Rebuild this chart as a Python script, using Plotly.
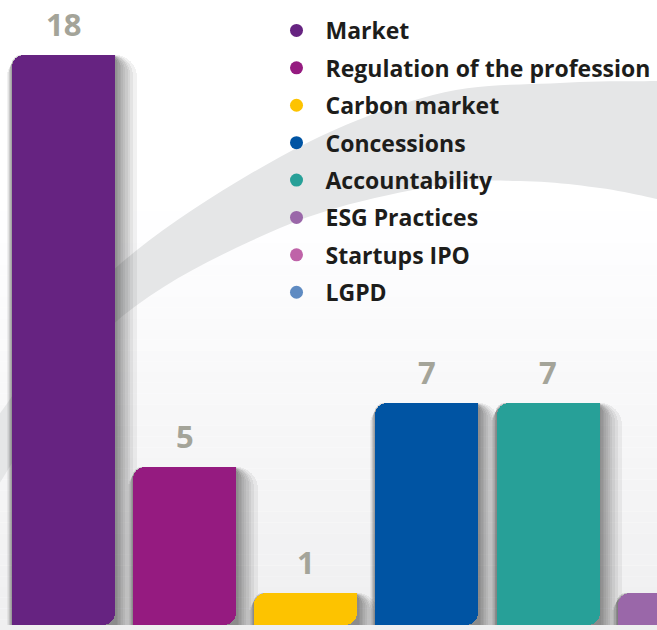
import plotly.graph_objects as go

# Number of mentions per topic
categories = ["Market", "Regulation of the profession", "Carbon market", "Concessions",
              "Accountability", "ESG Practices", "Startups IPO", "LGPD"]
mentions = [18, 5, 1, 7, 7, 1, 1, 1]
colors = ["#662381", "#951b80", "#fdc300", "#0054a3", "#27a098",
          "#9a67a9", "#bf63a8", "#5f8bc2"]

W, H = 657, 630
PITCH = 121.05          # px per category
BAR_W = 103 / PITCH     # bar width in category units


def px_x(p):
    return p / W


def px_y(p):
    return 1 - p / H


def smooth(points, steps=12):
    """Catmull-Rom through points, returned as a list of (x, y)."""
    pts = [points[0]] + points + [points[-1]]
    out = []
    for i in range(1, len(pts) - 2):
        p0, p1, p2, p3 = pts[i - 1], pts[i], pts[i + 1], pts[i + 2]
        for s in range(steps):
            t = s / steps
            t2, t3 = t * t, t * t * t
            x = 0.5 * ((2 * p1[0]) + (-p0[0] + p2[0]) * t + (2 * p0[0] - 5 * p1[0] + 4 * p2[0] - p3[0]) * t2 + (-p0[0] + 3 * p1[0] - 3 * p2[0] + p3[0]) * t3)
            y = 0.5 * ((2 * p1[1]) + (-p0[1] + p2[1]) * t + (2 * p0[1] - 5 * p1[1] + 4 * p2[1] - p3[1]) * t2 + (-p0[1] + 3 * p1[1] - 3 * p2[1] + p3[1]) * t3)
            out.append((x, y))
    out.append(points[-1])
    return out


fig = go.Figure()

# soft drop shadow to the right of every bar: many thin translucent layers,
# denser near the bar edge, with rounder corners further out
shadow_reach = [1.5, 3, 4.5, 6, 8, 10, 12.5, 15, 18, 22]
for i, reach in enumerate(shadow_reach):
    extra = reach / PITCH
    fig.add_trace(go.Bar(
        x=categories, y=mentions,
        width=BAR_W + extra * 1.25, offset=-BAR_W / 2 - extra * 0.25,
        marker=dict(color="rgba(45,45,45,0.068)", line=dict(width=0),
                    cornerradius=8 + 1.6 * i),
        showlegend=False, hoverinfo="skip",
    ))

# Each bar is assembled from three overlapping pieces so that only the
# top-left and bottom-right corners come out rounded.
# left piece: rounded top
fig.add_trace(go.Bar(
    x=categories, y=mentions,
    width=BAR_W * 0.6, offset=-BAR_W / 2,
    marker=dict(color=colors, line=dict(width=0), cornerradius=12),
    showlegend=False, hoverinfo="x+y",
))
# right piece hanging from the top: rounded bottom
fig.add_trace(go.Bar(
    x=categories, y=[-v for v in mentions], base=mentions,
    width=BAR_W * 0.6, offset=-BAR_W * 0.1,
    marker=dict(color=colors, line=dict(width=0), cornerradius=12),
    showlegend=False, hoverinfo="skip",
))
# upper right piece: square top-right corner
fig.add_trace(go.Bar(
    x=categories, y=[v / 2 for v in mentions], base=[v / 2 for v in mentions],
    width=BAR_W * 0.6, offset=-BAR_W * 0.1,
    marker=dict(color=colors, line=dict(width=0)),
    showlegend=False, hoverinfo="skip",
))

# legend entries with round dots
for name, c in zip(categories, colors):
    fig.add_trace(go.Scatter(
        x=[None], y=[None], mode="markers", name=name, legendgroup=name,
        marker=dict(symbol="circle", size=13, color=c),
    ))

# value labels above the bars
for cat, v in zip(categories, mentions):
    fig.add_annotation(
        x=cat, y=v, text=str(v), showarrow=False, yanchor="bottom", yshift=8,
        font=dict(family="Open Sans", size=31, color="#a4a499", weight=700),
    )

# background: vertical wash plus a grey swoosh
shapes = []
n_strips = 40
top, bottom = 200, H
for i in range(n_strips):
    y0 = top + (bottom - top) * i / n_strips
    y1 = top + (bottom - top) * (i + 1) / n_strips
    t = (i + 0.5) / n_strips
    g = round(255 - 16 * t)
    shapes.append(dict(type="rect", xref="paper", yref="paper", layer="below",
                       x0=0, x1=1, y0=px_y(y1), y1=px_y(y0),
                       fillcolor=f"rgb({g},{g},{min(255, g + 1)})", line=dict(width=0)))

upper = smooth([(-5, 420), (110, 273), (280, 157), (433, 95), (560, 83), (662, 81)])
lower = smooth([(-5, 490), (110, 327), (280, 228), (433, 186), (520, 181), (600, 188), (662, 200)])
ring = upper + lower[::-1]
path = "M " + " L ".join(f"{px_x(x):.5f},{px_y(y):.5f}" for x, y in ring) + " Z"
shapes.append(dict(type="path", xref="paper", yref="paper", layer="below", path=path,
                   fillcolor="#e5e6e7", line=dict(width=0)))

k_px = 31.66
y0 = -5 / k_px
y1 = y0 + H / k_px
x0 = -63.8 / PITCH
x1 = x0 + W / PITCH

fig.update_layout(
    width=W, height=H, autosize=False,
    margin=dict(l=0, r=0, t=0, b=0, pad=0),
    paper_bgcolor="white", plot_bgcolor="rgba(0,0,0,0)",
    barmode="overlay", bargap=0,
    shapes=shapes,
    showlegend=True,
    legend=dict(
        x=px_x(267.5), y=px_y(9), xanchor="left", yanchor="top",
        bgcolor="rgba(0,0,0,0)", borderwidth=0,
        font=dict(family="Open Sans", size=23, color="#1d1d1b", weight=700),
        traceorder="grouped", tracegroupgap=4.5, itemwidth=48,
    ),
    xaxis=dict(type="category", categoryorder="array", categoryarray=categories,
               range=[x0, x1], visible=False, fixedrange=True),
    yaxis=dict(range=[y0, y1], visible=False, fixedrange=True),
)

fig.write_html("out.html")
